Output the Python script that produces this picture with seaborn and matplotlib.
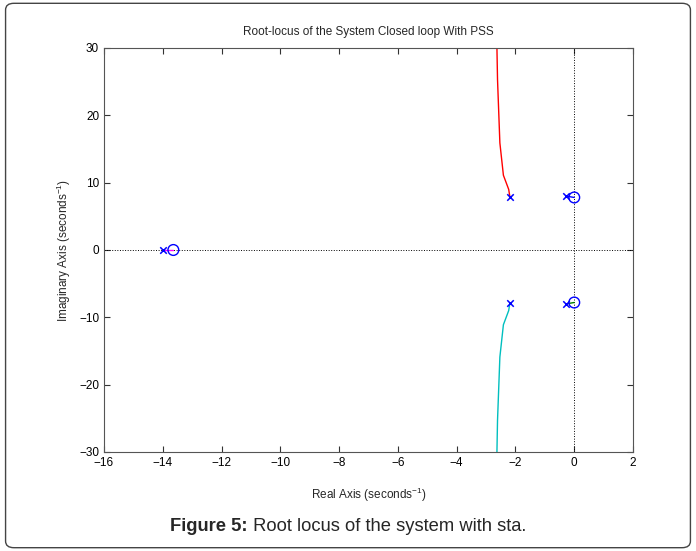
import matplotlib
matplotlib.use('Agg')
import matplotlib.pyplot as plt
from matplotlib.patches import FancyBboxPatch
import numpy as np
import pandas as pd
import seaborn as sns

# root locus branches
upper_re = [-2.19, -2.23, -2.41, -2.53, -2.61, -2.63]
upper_im = [7.9, 9.0, 11.1, 15.9, 25.3, 30.0]
lower_re = [-2.19, -2.23, -2.41, -2.53, -2.61, -2.63]
lower_im = [-7.9, -9.0, -11.1, -15.9, -25.3, -30.0]
real_re = [-13.98, -13.64]
real_im = [0.0, 0.0]
cpx_up_re = [-0.27, 0.0]
cpx_up_im = [8.0, 7.8]
cpx_lo_re = [-0.27, 0.0]
cpx_lo_im = [-8.0, -7.8]

poles_re = [-2.19, -2.19, -0.27, -0.27, -13.98]
poles_im = [7.9, -7.9, 8.0, -8.0, 0.0]
zeros_re = [0.0, 0.0, -13.64]
zeros_im = [7.8, -7.8, 0.0]

xticks = [-16, -14, -12, -10, -8, -6, -4, -2, 0, 2]
yticks = [-30, -20, -10, 0, 10, 20, 30]

sns.set_style('white')
plt.rcParams['font.family'] = ['Liberation Sans', 'DejaVu Sans']
plt.rcParams['mathtext.fontset'] = 'custom'
plt.rcParams['mathtext.rm'] = 'Liberation Sans'
plt.rcParams['mathtext.it'] = 'Liberation Sans:italic'
plt.rcParams['mathtext.bf'] = 'Liberation Sans:bold'

fig = plt.figure(figsize=(6.96, 5.51), dpi=100)
ax = fig.add_axes([0.1494, 0.1797, 0.7601, 0.7332])

ax.axhline(0, color='black', lw=0.7, ls=':', zorder=1)
ax.axvline(0, color='black', lw=0.7, ls=':', zorder=1)

branches = [
    (upper_re, upper_im, 'red'),
    (lower_re, lower_im, '#00bfbf'),
    (real_re, real_im, 'magenta'),
    (cpx_up_re, cpx_up_im, 'blue'),
    (cpx_lo_re, cpx_lo_im, 'green'),
]
for re, im, c in branches:
    df = pd.DataFrame({'re': re, 'im': im})
    sns.lineplot(data=df, x='re', y='im', sort=False, estimator=None,
                 color=c, lw=1, ax=ax, zorder=2)

sns.scatterplot(x=poles_re, y=poles_im, marker='x', color='blue', s=22,
                linewidth=1.1, ax=ax, zorder=3)
sns.scatterplot(x=zeros_re, y=zeros_im, marker='o', facecolor='none',
                edgecolor='blue', s=60, linewidth=1.0, ax=ax, zorder=3)

ax.set_xlim(-16, 2)
ax.set_ylim(-30, 30)
ax.set_xticks(xticks)
ax.set_yticks(yticks)
ax.set_xticklabels([str(t).replace('-', '\u2212') for t in xticks])
ax.set_yticklabels([str(t).replace('-', '\u2212') for t in yticks])
ax.tick_params(direction='in', length=4, top=True, right=True,
               bottom=True, left=True, labelsize=8.5, colors='#333333',
               labelcolor='black', width=0.8)
for sp in ax.spines.values():
    sp.set_color('#555555')
    sp.set_linewidth(0.8)

ax.set_xlabel('Real Axis (seconds$^{-1}$)', fontsize=8.5, labelpad=12)
ax.set_ylabel('Imaginary Axis (seconds$^{-1}$)', fontsize=8.5, labelpad=4)
ax.set_title('Root-locus of the System Closed loop With PSS', fontsize=8.5, pad=9)

# caption: bold label + normal text, centred together
t1 = fig.text(0, 0.045, 'Figure 5:', fontsize=13.2, fontweight='bold', va='center')
t2 = fig.text(0, 0.045, ' Root locus of the system with sta.', fontsize=13.2, va='center')
fig.canvas.draw()
r = fig.canvas.get_renderer()
w1 = t1.get_window_extent(r).width / fig.bbox.width
w2 = t2.get_window_extent(r).width / fig.bbox.width
x0 = 0.5 - (w1 + w2) / 2
t1.set_x(x0)
t2.set_x(x0 + w1)

border = FancyBboxPatch((0.008, 0.006), 0.984, 0.988,
                        boxstyle='round,pad=0,rounding_size=0.012',
                        transform=fig.transFigure, fill=False,
                        edgecolor='#444444', lw=1.0)
fig.patches.append(border)

fig.savefig('out.png', dpi=100)
